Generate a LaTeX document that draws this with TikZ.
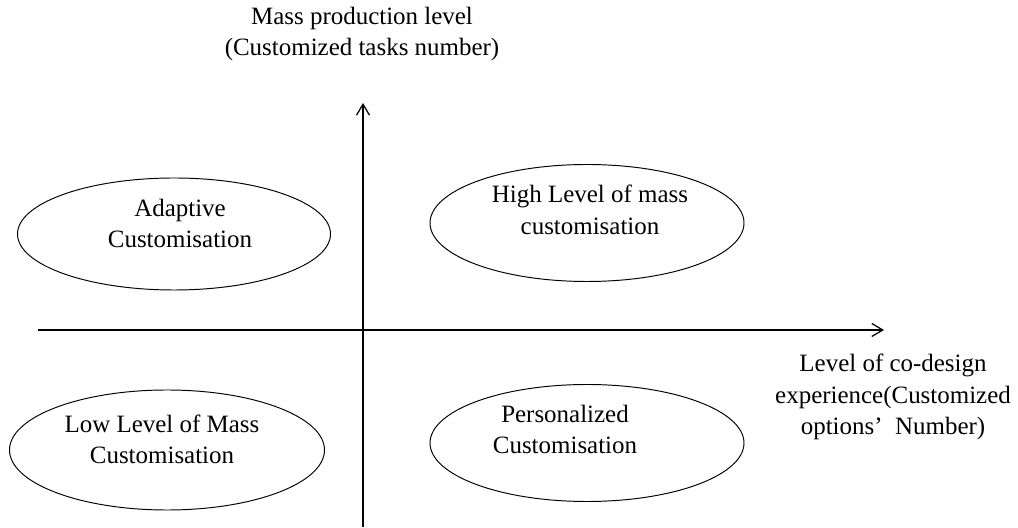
\documentclass[tikz,border=0pt]{standalone}
\usepackage{fontspec}
\setmainfont{Liberation Serif}
\usetikzlibrary{shapes.geometric,arrows.meta}

\begin{document}
\begin{tikzpicture}[
 quad/.style={draw,ellipse,line width=0.55pt,inner sep=0pt},
 txt/.style={align=center,font=\fontsize{14.2}{17.9}\selectfont},
 axis/.style={line width=0.7pt,-{Straight Barb[length=2.2mm,width=2.6mm]}}]
 \useasboundingbox (0,0) rectangle (20.36,10.54);
 % axes
 \coordinate (ybot) at (7.26,0);
 \coordinate (ytop) at (7.26,8.48);
 \coordinate (xlft) at (0.76,3.94);
 \coordinate (xrgt) at (17.68,3.94);
 \draw[axis](ybot)--(ytop);
 \draw[axis](xlft)--(xrgt);
 \node[txt] (ylab) at (7.24,9.86) {Mass production level\\(Customized tasks number)};
 \node[txt] (xlab) at (17.86,2.60) {Level of co-design\\experience(Customized\\options’\ \ Number)};
 % quadrants
 \node[quad,minimum width=6.26cm,minimum height=2.24cm] (adapt) at (3.48,5.86) {};
 \node[quad,minimum width=6.28cm,minimum height=2.34cm] (high) at (11.74,6.08) {};
 \node[quad,minimum width=6.30cm,minimum height=2.40cm] (low) at (3.34,1.54) {};
 \node[quad,minimum width=6.28cm,minimum height=2.34cm] (pers) at (11.74,1.68) {};
 \node[txt] (adapttxt) at (3.60,6.07) {Adaptive\\Customisation};
 \node[txt] (hightxt) at (11.80,6.34) {High Level of mass\\customisation};
 \node[txt] (lowtxt) at (3.24,1.75) {Low Level of Mass\\Customisation};
 \node[txt] (perstxt) at (11.30,1.95) {Personalized\\Customisation};
\end{tikzpicture}
\end{document}
